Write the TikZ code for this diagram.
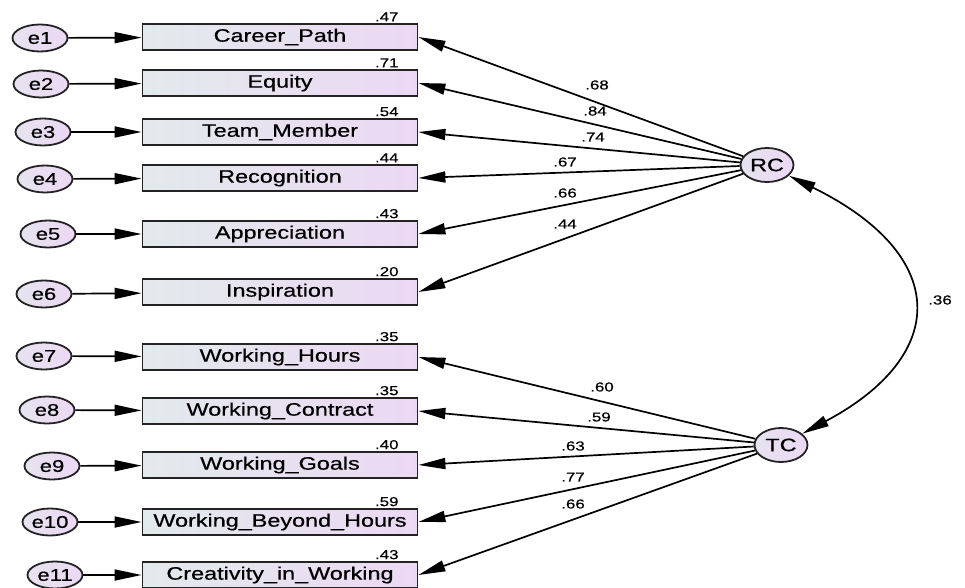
\documentclass[tikz,border=0pt]{standalone}
\usepackage{fontspec}
\setmainfont{Liberation Sans}[FakeStretch=1.3,FakeBold=0.6]
\usetikzlibrary{arrows.meta,shapes.geometric,positioning}

\definecolor{fillleft}{RGB}{226,234,236}
\definecolor{fillright}{RGB}{236,216,244}
\definecolor{edgegray}{RGB}{35,35,35}

\tikzset{
  obsvar/.style={draw=edgegray, line width=1.8pt, left color=fillleft, right color=fillright,
    minimum width=275pt, minimum height=26pt, inner sep=0pt, font=\fontsize{18}{18}\selectfont},
  errvar/.style={ellipse, draw=edgegray, line width=1.8pt, left color=fillleft!60!fillright, right color=fillright,
    minimum width=55pt, minimum height=27pt, inner sep=0pt, font=\fontsize{17}{17}\selectfont},
  latvar/.style={ellipse, draw=edgegray, line width=1.8pt, left color=fillleft!60!fillright, right color=fillright,
    minimum width=53pt, minimum height=34pt, inner sep=0pt, font=\fontsize{18}{18}\selectfont},
  coef/.style={inner sep=1pt, font=\fontsize{13}{13}\selectfont}
}

\begin{document}
\begin{tikzpicture}[x=1pt,y=-1pt,>={Triangle[length=27pt,width=11pt]},line width=1.7pt]

                \useasboundingbox (0,0) rectangle (965,588);

                % indicators
                \node[obsvar] (v1) at (280,37) {Career\_Path};
                \node[obsvar] (v2) at (280,83) {Equity};
                \node[obsvar] (v3) at (280,132) {Team\_Member};
                \node[obsvar] (v4) at (280,178) {Recognition};
                \node[obsvar] (v5) at (280,234) {Appreciation};
                \node[obsvar] (v6) at (280,292) {Inspiration};
                \node[obsvar] (v7) at (280,357) {Working\_Hours};
                \node[obsvar] (v8) at (280,411) {Working\_Contract};
                \node[obsvar] (v9) at (280,465) {Working\_Goals};
                \node[obsvar] (v10) at (280,522) {Working\_Beyond\_Hours};
                \node[obsvar] (v11) at (280,575) {Creativity\_in\_Working};

                % errors
                \node[errvar] (e1) at (40,38) {e1};
                \node[errvar] (e2) at (41,84) {e2};
                \node[errvar] (e3) at (43,132) {e3};
                \node[errvar] (e4) at (45,179) {e4};
                \node[errvar] (e5) at (48,234) {e5};
                \node[errvar] (e6) at (44,294) {e6};
                \node[errvar] (e7) at (44,356) {e7};
                \node[errvar] (e8) at (47,410) {e8};
                \node[errvar] (e9) at (52,466) {e9};
                \node[errvar] (e10) at (50,522) {e10};
                \node[errvar] (e11) at (55,575) {e11};

                % latent factors
                \node[latvar] (rc) at (767,165) {RC};
                \node[latvar] (tc) at (781,445) {TC};

                % squared multiple correlations
                \node[coef, above left=0pt and 18pt] (s1) at (v1.north east) {.47};
                \node[coef, above left=0pt and 18pt] (s2) at (v2.north east) {.71};
                \node[coef, above left=0pt and 18pt] (s3) at (v3.north east) {.54};
                \node[coef, above left=0pt and 18pt] (s4) at (v4.north east) {.44};
                \node[coef, above left=0pt and 18pt] (s5) at (v5.north east) {.43};
                \node[coef, above left=0pt and 18pt] (s6) at (v6.north east) {.20};
                \node[coef, above left=0pt and 18pt] (s7) at (v7.north east) {.35};
                \node[coef, above left=0pt and 18pt] (s8) at (v8.north east) {.35};
                \node[coef, above left=0pt and 18pt] (s9) at (v9.north east) {.40};
                \node[coef, above left=0pt and 18pt] (s10) at (v10.north east) {.59};
                \node[coef, above left=0pt and 18pt] (s11) at (v11.north east) {.43};

                \path[->] (e1) edge (v1)
                          (e2) edge (v2)
                          (e3) edge (v3)
                          (e4) edge (v4)
                          (e5) edge (v5)
                          (e6) edge (v6)
                          (e7) edge (v7)
                          (e8) edge (v8)
                          (e9) edge (v9)
                          (e10) edge (v10)
                          (e11) edge (v11);

                \path[->] (rc) edge (v1.east)
                               edge (v2.east)
                               edge (v3.east)
                               edge (v4.east)
                               edge (v5.east)
                               edge (v6.east)
                          (tc) edge (v7.east)
                               edge (v8.east)
                               edge (v9.east)
                               edge (v10.east)
                               edge (v11.east);

                \draw[<->] (rc) .. controls (950,255) and (950,355) .. (tc);

                % loadings
                \node[coef] (l1) at (597,85) {.68};
                \node[coef] (l2) at (595,111) {.84};
                \node[coef] (l3) at (593,137) {.74};
                \node[coef] (l4) at (565,162) {.67};
                \node[coef] (l5) at (565,193) {.66};
                \node[coef] (l6) at (565,224) {.44};
                \node[coef] (l7) at (602,387) {.60};
                \node[coef] (l8) at (599,417) {.59};
                \node[coef] (l9) at (573,446) {.63};
                \node[coef] (l10) at (573,477) {.77};
                \node[coef] (l11) at (573,504) {.66};
                \node[coef] (r) at (940,300) {.36};

            \end{tikzpicture}
\end{document}
